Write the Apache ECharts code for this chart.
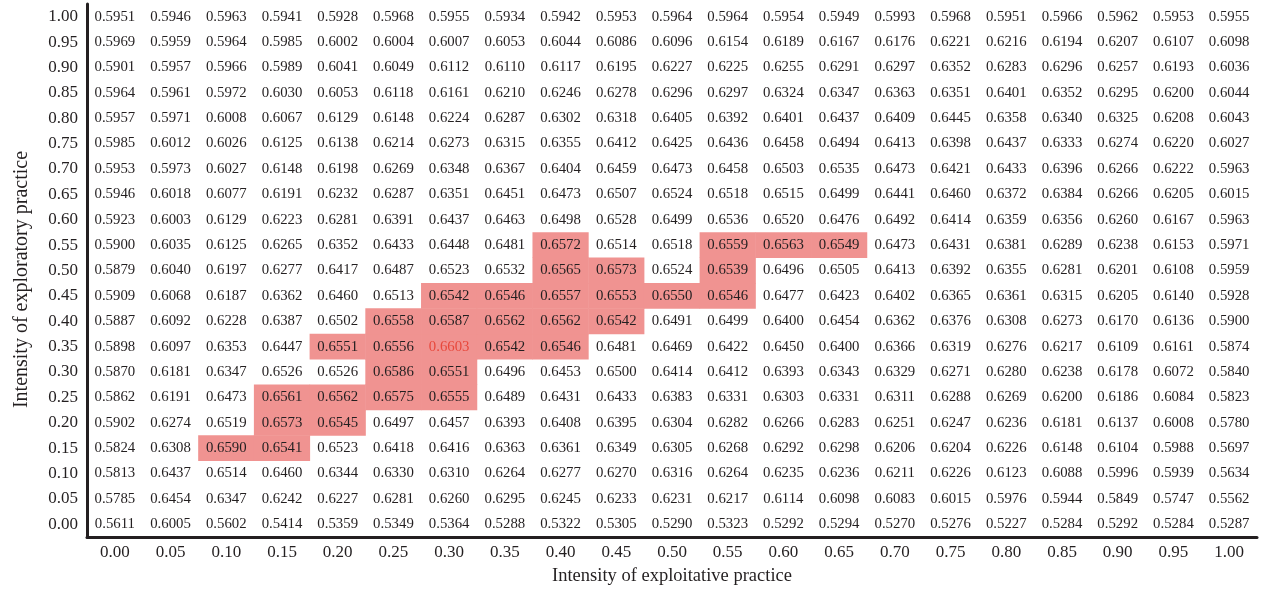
<!DOCTYPE html>
<html>
<head>
<meta charset="utf-8">
<script src="https://cdn.jsdelivr.net/npm/echarts@6/dist/echarts.min.js"></script>
<style>
  html, body { margin: 0; padding: 0; background: #fff; }
  #chart { width: 1261px; height: 591px; }
</style>
</head>
<body>
<div id="chart"></div>
<script>
// tick labels
const exploitTicks = ['0.00','0.05','0.10','0.15','0.20','0.25','0.30','0.35','0.40','0.45','0.50',
  '0.55','0.60','0.65','0.70','0.75','0.80','0.85','0.90','0.95','1.00'];
const exploreTicks = exploitTicks.slice(); // bottom to top

// one row per exploratory intensity, columns = exploitative intensity 0.00 .. 1.00
const row100 = [0.5951,0.5946,0.5963,0.5941,0.5928,0.5968,0.5955,0.5934,0.5942,0.5953,0.5964,0.5964,0.5954,0.5949,0.5993,0.5968,0.5951,0.5966,0.5962,0.5953,0.5955];
const row095 = [0.5969,0.5959,0.5964,0.5985,0.6002,0.6004,0.6007,0.6053,0.6044,0.6086,0.6096,0.6154,0.6189,0.6167,0.6176,0.6221,0.6216,0.6194,0.6207,0.6107,0.6098];
const row090 = [0.5901,0.5957,0.5966,0.5989,0.6041,0.6049,0.6112,0.6110,0.6117,0.6195,0.6227,0.6225,0.6255,0.6291,0.6297,0.6352,0.6283,0.6296,0.6257,0.6193,0.6036];
const row085 = [0.5964,0.5961,0.5972,0.6030,0.6053,0.6118,0.6161,0.6210,0.6246,0.6278,0.6296,0.6297,0.6324,0.6347,0.6363,0.6351,0.6401,0.6352,0.6295,0.6200,0.6044];
const row080 = [0.5957,0.5971,0.6008,0.6067,0.6129,0.6148,0.6224,0.6287,0.6302,0.6318,0.6405,0.6392,0.6401,0.6437,0.6409,0.6445,0.6358,0.6340,0.6325,0.6208,0.6043];
const row075 = [0.5985,0.6012,0.6026,0.6125,0.6138,0.6214,0.6273,0.6315,0.6355,0.6412,0.6425,0.6436,0.6458,0.6494,0.6413,0.6398,0.6437,0.6333,0.6274,0.6220,0.6027];
const row070 = [0.5953,0.5973,0.6027,0.6148,0.6198,0.6269,0.6348,0.6367,0.6404,0.6459,0.6473,0.6458,0.6503,0.6535,0.6473,0.6421,0.6433,0.6396,0.6266,0.6222,0.5963];
const row065 = [0.5946,0.6018,0.6077,0.6191,0.6232,0.6287,0.6351,0.6451,0.6473,0.6507,0.6524,0.6518,0.6515,0.6499,0.6441,0.6460,0.6372,0.6384,0.6266,0.6205,0.6015];
const row060 = [0.5923,0.6003,0.6129,0.6223,0.6281,0.6391,0.6437,0.6463,0.6498,0.6528,0.6499,0.6536,0.6520,0.6476,0.6492,0.6414,0.6359,0.6356,0.6260,0.6167,0.5963];
const row055 = [0.5900,0.6035,0.6125,0.6265,0.6352,0.6433,0.6448,0.6481,0.6572,0.6514,0.6518,0.6559,0.6563,0.6549,0.6473,0.6431,0.6381,0.6289,0.6238,0.6153,0.5971];
const row050 = [0.5879,0.6040,0.6197,0.6277,0.6417,0.6487,0.6523,0.6532,0.6565,0.6573,0.6524,0.6539,0.6496,0.6505,0.6413,0.6392,0.6355,0.6281,0.6201,0.6108,0.5959];
const row045 = [0.5909,0.6068,0.6187,0.6362,0.6460,0.6513,0.6542,0.6546,0.6557,0.6553,0.6550,0.6546,0.6477,0.6423,0.6402,0.6365,0.6361,0.6315,0.6205,0.6140,0.5928];
const row040 = [0.5887,0.6092,0.6228,0.6387,0.6502,0.6558,0.6587,0.6562,0.6562,0.6542,0.6491,0.6499,0.6400,0.6454,0.6362,0.6376,0.6308,0.6273,0.6170,0.6136,0.5900];
const row035 = [0.5898,0.6097,0.6353,0.6447,0.6551,0.6556,0.6603,0.6542,0.6546,0.6481,0.6469,0.6422,0.6450,0.6400,0.6366,0.6319,0.6276,0.6217,0.6109,0.6161,0.5874];
const row030 = [0.5870,0.6181,0.6347,0.6526,0.6526,0.6586,0.6551,0.6496,0.6453,0.6500,0.6414,0.6412,0.6393,0.6343,0.6329,0.6271,0.6280,0.6238,0.6178,0.6072,0.5840];
const row025 = [0.5862,0.6191,0.6473,0.6561,0.6562,0.6575,0.6555,0.6489,0.6431,0.6433,0.6383,0.6331,0.6303,0.6331,0.6311,0.6288,0.6269,0.6200,0.6186,0.6084,0.5823];
const row020 = [0.5902,0.6274,0.6519,0.6573,0.6545,0.6497,0.6457,0.6393,0.6408,0.6395,0.6304,0.6282,0.6266,0.6283,0.6251,0.6247,0.6236,0.6181,0.6137,0.6008,0.5780];
const row015 = [0.5824,0.6308,0.6590,0.6541,0.6523,0.6418,0.6416,0.6363,0.6361,0.6349,0.6305,0.6268,0.6292,0.6298,0.6206,0.6204,0.6226,0.6148,0.6104,0.5988,0.5697];
const row010 = [0.5813,0.6437,0.6514,0.6460,0.6344,0.6330,0.6310,0.6264,0.6277,0.6270,0.6316,0.6264,0.6235,0.6236,0.6211,0.6226,0.6123,0.6088,0.5996,0.5939,0.5634];
const row005 = [0.5785,0.6454,0.6347,0.6242,0.6227,0.6281,0.6260,0.6295,0.6245,0.6233,0.6231,0.6217,0.6114,0.6098,0.6083,0.6015,0.5976,0.5944,0.5849,0.5747,0.5562];
const row000 = [0.5611,0.6005,0.5602,0.5414,0.5359,0.5349,0.5364,0.5288,0.5322,0.5305,0.5290,0.5323,0.5292,0.5294,0.5270,0.5276,0.5227,0.5284,0.5292,0.5284,0.5287];

// cells at or above this are shaded
const highlightFrom = 0.6538;

const rowsBottomUp = [row000,row005,row010,row015,row020,row025,row030,row035,row040,row045,row050,
  row055,row060,row065,row070,row075,row080,row085,row090,row095,row100];

let maxVal = -Infinity;
rowsBottomUp.forEach(r => r.forEach(v => { if (v > maxVal) maxVal = v; }));

const cells = [];
rowsBottomUp.forEach((r, yi) => {
  r.forEach((v, xi) => {
    const item = { value: [xi, yi, v] };
    if (v === maxVal) item.label = { color: '#e8483c' };
    cells.push(item);
  });
});

const serif = '"Liberation Serif", "DejaVu Serif", serif';
const ink = '#231f20';
const chart = echarts.init(document.getElementById('chart'));

chart.setOption({
  animation: false,
  backgroundColor: '#fff',
  grid: { left: 87, right: 4, top: 4, bottom: 53 },
  xAxis: {
    type: 'category',
    data: exploitTicks,
    z: 10,
    name: 'Intensity of exploitative practice',
    nameLocation: 'middle',
    nameGap: 30,
    nameTextStyle: { fontFamily: serif, fontSize: 18.5, color: ink },
    axisLine: { lineStyle: { color: ink, width: 3 } },
    axisTick: { show: false },
    axisLabel: { fontFamily: serif, fontSize: 17, color: ink, margin: 7 },
    splitLine: { show: false }
  },
  yAxis: {
    type: 'category',
    data: exploreTicks,
    z: 10,
    name: 'Intensity of exploratory practice',
    nameLocation: 'middle',
    nameGap: 55,
    nameTextStyle: { fontFamily: serif, fontSize: 20, color: ink, padding: [0, 18, 0, 0] },
    axisLine: { lineStyle: { color: ink, width: 3 } },
    axisTick: { show: false },
    axisLabel: { fontFamily: serif, fontSize: 17, color: ink, margin: 9 },
    splitLine: { show: false }
  },
  visualMap: {
    show: false,
    type: 'piecewise',
    dimension: 2,
    pieces: [
      { gte: highlightFrom, color: '#f09391' },
      { lt: highlightFrom, color: 'rgba(255,255,255,0)' }
    ]
  },
  series: [{
    type: 'heatmap',
    data: cells,
    itemStyle: { borderWidth: 0 },
    label: {
      show: true,
      fontFamily: serif,
      fontSize: 14.8,
      color: ink,
      formatter: p => p.value[2].toFixed(4)
    },
    emphasis: { disabled: true }
  }]
});
</script>
</body>
</html>
